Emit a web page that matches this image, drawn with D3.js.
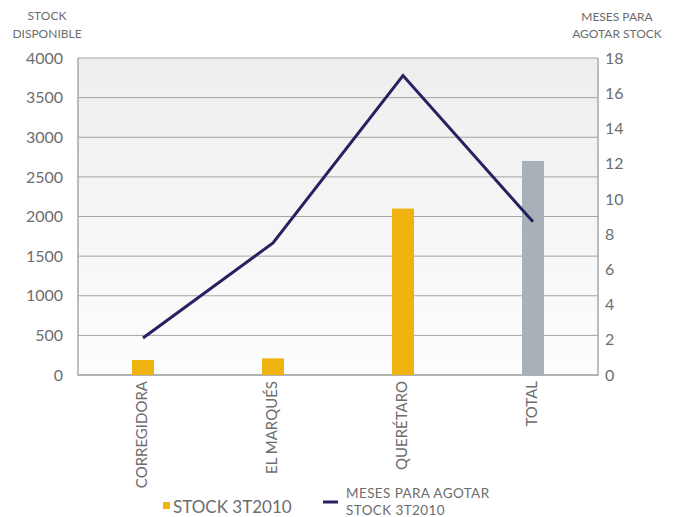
<!DOCTYPE html>
<html>
<head>
<meta charset="utf-8">
<script src="https://cdn.jsdelivr.net/npm/d3@7"></script>
<style>
  html, body { margin: 0; padding: 0; background: #ffffff; }
  svg { display: block; font-family: Lato, "Open Sans", sans-serif; }
</style>
</head>
<body>
<svg id="chart" width="681" height="517"></svg>
<script>
// Stock disponible (barras) y meses para agotar stock (línea), 3T2010
const categories = ["CORREGIDORA", "EL MARQUÉS", "QUERÉTARO", "TOTAL"];
const stockValues = [190, 210, 2100, 2700];
const monthsValues = [2.1, 7.5, 17.0, 8.7];
const leftTicks = [0, 500, 1000, 1500, 2000, 2500, 3000, 3500, 4000];
const rightTicks = [0, 2, 4, 6, 8, 10, 12, 14, 16, 18];
const barLegend = "STOCK 3T2010";
const lineLegend = ["MESES PARA AGOTAR", "STOCK 3T2010"];

const svg = d3.select("#chart");
const plot = { left: 78, right: 598, top: 58, bottom: 375 };

const x = d3.scaleBand().domain(categories).range([plot.left, plot.right]);
const yLeft = d3.scaleLinear().domain([0, 4000]).range([plot.bottom, plot.top]);
const yRight = d3.scaleLinear().domain([0, 18]).range([plot.bottom, plot.top]);

// Fondo del área de trazado con degradado suave
const defs = svg.append("defs");
const grad = defs.append("linearGradient").attr("id", "bg").attr("x1", 0).attr("y1", 0).attr("x2", 0).attr("y2", 1);
grad.append("stop").attr("offset", "0%").attr("stop-color", "#eeeeee");
grad.append("stop").attr("offset", "100%").attr("stop-color", "#fdfdfd");

svg.append("rect")
  .attr("x", plot.left).attr("y", plot.top)
  .attr("width", plot.right - plot.left).attr("height", plot.bottom - plot.top)
  .attr("fill", "url(#bg)");

// Líneas de cuadrícula del eje izquierdo
svg.append("g").selectAll("line").data(leftTicks).join("line")
  .attr("x1", plot.left).attr("x2", plot.right)
  .attr("y1", d => yLeft(d)).attr("y2", d => yLeft(d))
  .attr("stroke", "#a3a3a3").attr("stroke-width", 1);

// Marco
svg.append("path")
  .attr("d", `M${plot.left},${plot.top}V${plot.bottom}H${plot.right}V${plot.top}`)
  .attr("fill", "none").attr("stroke", "#a8a8a8").attr("stroke-width", 1.5);

const tickFmt = d3.format("d");

// Eje izquierdo
const leftAxis = svg.append("g")
  .attr("transform", `translate(${plot.left - 15},0)`)
  .call(d3.axisLeft(yLeft).tickValues(leftTicks).tickFormat(tickFmt).tickSize(0).tickPadding(0));
leftAxis.select(".domain").remove();
leftAxis.selectAll("text").attr("fill", "#6d6d6d").style("font-size", "16px")
  .style("font-family", "Lato, sans-serif");

// Eje derecho
const rightAxis = svg.append("g")
  .attr("transform", `translate(${plot.right + 7},0)`)
  .call(d3.axisRight(yRight).tickValues(rightTicks).tickFormat(tickFmt).tickSize(0).tickPadding(0));
rightAxis.select(".domain").remove();
rightAxis.selectAll("text").attr("fill", "#6d6d6d").style("font-size", "16px")
  .style("font-family", "Lato, sans-serif");

// Títulos de los ejes
const titleStyle = sel => sel.attr("fill", "#6d6d6d").attr("text-anchor", "middle")
  .style("font-size", "12px").style("font-family", "Lato, sans-serif");
svg.append("text").attr("x", 47).attr("y", 20).text("STOCK").call(titleStyle);
svg.append("text").attr("x", 47).attr("y", 38).text("DISPONIBLE").call(titleStyle);
svg.append("text").attr("x", 617).attr("y", 21).text("MESES PARA").call(titleStyle);
svg.append("text").attr("x", 617).attr("y", 38).text("AGOTAR STOCK").call(titleStyle);

// Barras
const barW = 22;
svg.append("g").selectAll("rect").data(categories).join("rect")
  .attr("x", d => x(d) + x.bandwidth() / 2 - barW / 2)
  .attr("width", barW)
  .attr("y", (d, i) => yLeft(stockValues[i]))
  .attr("height", (d, i) => yLeft(0) - yLeft(stockValues[i]))
  .attr("fill", (d, i) => i === categories.length - 1 ? "#a9b0b7" : "#efb310");

// Línea de meses para agotar
const line = d3.line()
  .x((d, i) => x(categories[i]) + x.bandwidth() / 2)
  .y(d => yRight(d));
svg.append("path").datum(monthsValues)
  .attr("d", line)
  .attr("fill", "none").attr("stroke", "#262262").attr("stroke-width", 3)
  .attr("stroke-linejoin", "miter");

// Etiquetas de categoría (verticales)
svg.append("g").selectAll("text").data(categories).join("text")
  .attr("transform", d => `translate(${x(d) + x.bandwidth() / 2 + 4},381) rotate(-90)`)
  .attr("text-anchor", "end")
  .attr("fill", "#6d6d6d")
  .style("font-size", "15px").style("font-family", "Lato, sans-serif")
  .text(d => d);

// Leyenda
svg.append("rect").attr("x", 163).attr("y", 502).attr("width", 7).attr("height", 7).attr("fill", "#efb310");
svg.append("text").attr("x", 173).attr("y", 513).text(barLegend)
  .attr("fill", "#6d6d6d").style("font-size", "17px").style("font-family", "Lato, sans-serif");
svg.append("line").attr("x1", 323).attr("x2", 338).attr("y1", 502).attr("y2", 502)
  .attr("stroke", "#262262").attr("stroke-width", 3);
const lineLegendText = svg.append("text")
  .attr("fill", "#6d6d6d").style("font-size", "13.5px").style("font-family", "Lato, sans-serif")
  .style("letter-spacing", "0.4px");
lineLegendText.selectAll("tspan").data(lineLegend).join("tspan")
  .attr("x", 346).attr("y", (d, i) => 498 + i * 16.5)
  .text(d => d);
</script>
</body>
</html>
